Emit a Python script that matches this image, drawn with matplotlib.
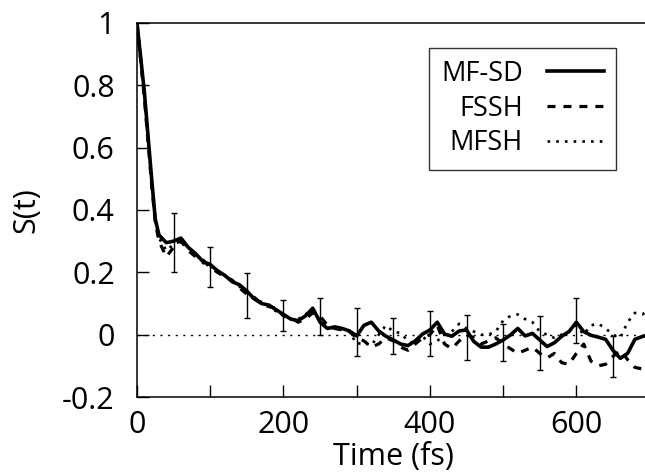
import numpy as np
import matplotlib.pyplot as plt

plt.rcParams['font.family'] = ['Open Sans', 'DejaVu Sans']

# time grid (fs)
time = [0, 5, 10, 15, 20, 25, 30,
        40, 50, 60, 70, 80, 90, 100, 110, 120, 130, 140, 150, 160, 170,
        180, 190, 200, 210, 220, 230, 240, 250, 260, 270, 280, 290, 300,
        310, 320, 330, 340, 350, 360, 370, 380, 390, 400, 410, 420, 430,
        440, 450, 460, 470, 480, 490, 500, 510, 520, 530, 540, 550, 560,
        570, 580, 590, 600, 610, 620, 630, 640, 650, 660, 670, 680, 690,
        700]

mfsd = [1.00, 0.89, 0.78, 0.64, 0.50, 0.37, 0.32,
        0.295, 0.30, 0.31, 0.28, 0.26, 0.235, 0.225, 0.205, 0.19, 0.17,
        0.16, 0.14, 0.115, 0.10, 0.095, 0.08, 0.065, 0.05, 0.045, 0.06,
        0.085, 0.04, 0.02, 0.025, 0.02, 0.012, -0.004, 0.03, 0.04, 0.012,
        -0.005, -0.017, -0.03, -0.035, -0.02, 0.002, 0.015, 0.04, 0.002,
        -0.005, 0.012, 0.015, -0.022, -0.04, -0.04, -0.03, -0.017, -0.001,
        0.02, -0.004, 0.004, -0.017, -0.038, -0.026, -0.005, 0.01, 0.04,
        0.01, -0.002, -0.008, -0.015, -0.05, -0.076, -0.06, -0.015,
        -0.006, 0.0]

fssh = [1.00, 0.88, 0.76, 0.62, 0.48, 0.36, 0.30,
        0.25, 0.28, 0.30, 0.27, 0.25, 0.24, 0.215, 0.20, 0.185, 0.175,
        0.15, 0.13, 0.12, 0.10, 0.09, 0.085, 0.06, 0.055, 0.04, 0.05,
        0.07, 0.06, 0.03, 0.02, 0.015, 0.01, -0.01, -0.02, -0.04, -0.03,
        -0.01, -0.02, -0.04, -0.05, -0.03, -0.01, 0.0, 0.03, -0.03,
        -0.045, -0.02, 0.0, -0.01, -0.03, -0.02, -0.01, -0.03, -0.045,
        -0.06, -0.05, -0.04, -0.06, -0.075, -0.06, -0.09, -0.095, -0.06,
        -0.03, -0.085, -0.1, -0.095, -0.07, -0.05, -0.08, -0.105, -0.11,
        -0.1]

mfsh = [1.00, 0.89, 0.77, 0.63, 0.49, 0.37, 0.31,
        0.27, 0.29, 0.30, 0.28, 0.26, 0.23, 0.22, 0.20, 0.19, 0.17,
        0.155, 0.13, 0.115, 0.105, 0.09, 0.075, 0.065, 0.05, 0.05, 0.065,
        0.08, 0.045, 0.025, 0.02, 0.015, 0.01, -0.03, -0.025, -0.035, 0.0,
        0.03, 0.01, 0.005, -0.02, -0.03, -0.005, -0.03, -0.02, 0.0, 0.01,
        0.035, 0.02, 0.01, 0.0, 0.0, 0.01, 0.045, 0.06, 0.065, 0.05, 0.04,
        0.01, 0.0, -0.01, 0.0, 0.01, 0.03, 0.0, 0.03, 0.035, 0.02, 0.0,
        -0.01, 0.04, 0.07, 0.065, 0.08]

# error bars
err_t = [50, 100, 150, 200, 250, 300, 350, 400, 450, 500, 550, 600, 650]
err_center = [0.295, 0.217, 0.127, 0.062, 0.059, 0.009, -0.005, 0.005,
              -0.009, -0.025, -0.026, 0.046, -0.07]
err_half = [0.095, 0.065, 0.072, 0.049, 0.06, 0.078, 0.058, 0.072,
            0.072, 0.059, 0.087, 0.072, 0.065]

fig = plt.figure(figsize=(6.45, 4.75), dpi=100)
ax = fig.add_axes([0.2124, 0.1642, 0.7947, 0.7874])

ax.axhline(0, color='black', lw=1.0, ls=(0, (1.5, 4)), zorder=1)

ax.plot(time, mfsh, color='black', lw=1.9, ls=(0, (1, 2.3)), label='MFSH')
ax.plot(time, fssh, color='black', lw=2.3, ls=(0, (2.5, 2.5)), label='FSSH')
ax.plot(time, mfsd, color='black', lw=2.6, label='MF-SD')
ax.errorbar(err_t, err_center, yerr=err_half, fmt='none', ecolor='black',
            elinewidth=1.0, capsize=2.5, capthick=1.0)

ax.set_xlim(0, 700)
ax.set_ylim(-0.2, 1.0)
ax.set_xticks([0, 200, 400, 600])
ax.set_xticks([100, 300, 500, 700], minor=True)
ax.set_yticks([-0.2, 0, 0.2, 0.4, 0.6, 0.8, 1.0])
ax.set_yticklabels(['-0.2', '0', '0.2', '0.4', '0.6', '0.8', '1'])

ax.tick_params(axis='both', which='both', direction='in', length=8.5,
               width=1.0, top=False, right=False, labelsize=22)
ax.tick_params(axis='y', pad=16)
ax.tick_params(axis='x', pad=9)
ax.spines['right'].set_visible(False)
for s in ['left', 'bottom', 'top']:
    ax.spines[s].set_linewidth(1.1)

ax.set_xlabel('Time (fs)', fontsize=22, labelpad=2)
ax.set_ylabel('S(t)', fontsize=22, labelpad=15)

handles, labels = ax.get_legend_handles_labels()
leg = ax.legend(handles[::-1], labels[::-1], loc='upper right',
                bbox_to_anchor=(0.935, 0.934), markerfirst=False,
                fontsize=19.5, frameon=True, fancybox=False,
                edgecolor='black', handlelength=2.1, handletextpad=0.9,
                labelspacing=0.25, borderpad=0.45, borderaxespad=0)
leg.get_frame().set_linewidth(1.0)

fig.savefig('out.png', dpi=100)
